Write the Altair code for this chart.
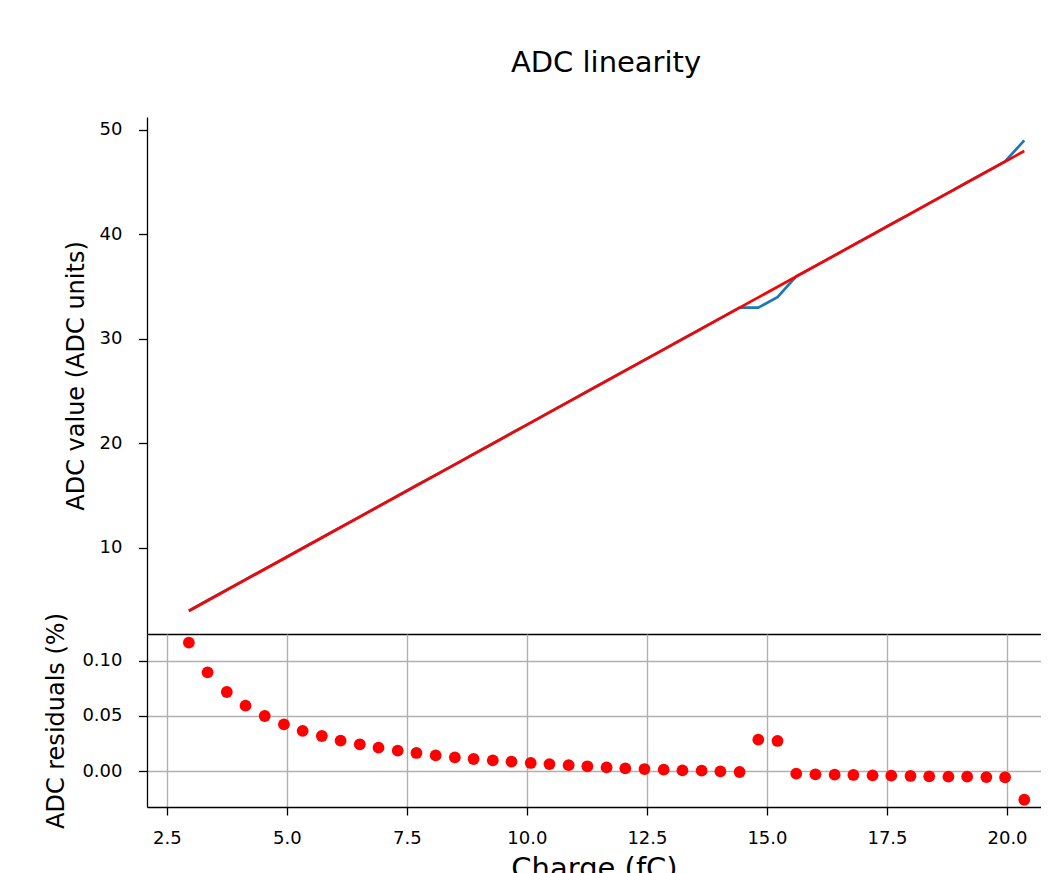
import altair as alt
import pandas as pd

# Charge values (fC)
charge = [2.96, 3.35, 3.75, 4.14, 4.54, 4.94, 5.33, 5.73, 6.12, 6.52,
          6.91, 7.31, 7.70, 8.10, 8.50, 8.89, 9.29, 9.68, 10.08, 10.47,
          10.87, 11.26, 11.66, 12.05, 12.45, 12.85, 13.24, 13.64, 14.03, 14.43,
          14.82, 15.22, 15.61, 16.01, 16.41, 16.80, 17.20, 17.59, 17.99, 18.38,
          18.78, 19.17, 19.57, 19.96, 20.36]

# Measured ADC values
adc = [4, 5, 6, 7, 8, 9, 10, 11, 12, 13,
       14, 15, 16, 17, 18, 19, 20, 21, 22, 23,
       24, 25, 26, 27, 28, 29, 30, 31, 32, 33,
       33, 34, 36, 37, 38, 39, 40, 41, 42, 43,
       44, 45, 46, 47, 49]

# Linear fit endpoints
fit_charge = [2.96, 20.36]
fit_adc = [3.97, 47.99]

# Residuals
residuals = [0.1167, 0.0897, 0.0718, 0.0594, 0.0500, 0.0424, 0.0364, 0.0318, 0.0276, 0.0243,
             0.0212, 0.0185, 0.0164, 0.0142, 0.0124, 0.0109, 0.0097, 0.0085, 0.0073, 0.0063,
             0.0053, 0.0043, 0.0033, 0.0024, 0.0018, 0.0012, 0.0006, 0.0003, -0.0003, -0.0009,
             0.0285, 0.0273, -0.0024, -0.0030, -0.0033, -0.0036, -0.0039, -0.0042, -0.0045, -0.0048,
             -0.0051, -0.0051, -0.0055, -0.0057, -0.0261]

x_ticks = [2.5, 5.0, 7.5, 10.0, 12.5, 15.0, 17.5, 20.0]
top_ticks = [10, 20, 30, 40, 50]
res_ticks = [0.0, 0.05, 0.10]

df_data = pd.DataFrame({"charge": charge, "adc": adc, "res": residuals})
df_fit = pd.DataFrame({"charge": fit_charge, "adc": fit_adc})

FONT = "DejaVu Sans"
x_scale = alt.Scale(domain=[2.088, 20.708], nice=False, zero=False)
top_scale = alt.Scale(domain=[1.77, 51.24], nice=False, zero=False)
res_scale = alt.Scale(domain=[-0.0327, 0.1245], nice=False, zero=False)

top_y_axis = alt.Axis(values=top_ticks, title="ADC value (ADC units)", grid=False,
                      labelPadding=16.5, titlePadding=11, tickSize=8.5)
top_x_axis = alt.Axis(labels=False, ticks=False, domain=True, grid=False, title=None)

blue = alt.Chart(df_data).mark_line(color="#1f77b4", strokeWidth=2.7).encode(
    x=alt.X("charge:Q", scale=x_scale, axis=top_x_axis),
    y=alt.Y("adc:Q", scale=top_scale, axis=top_y_axis),
)
red = alt.Chart(df_fit).mark_line(color="#ff0000", strokeWidth=2.7).encode(
    x=alt.X("charge:Q", scale=x_scale, axis=top_x_axis),
    y=alt.Y("adc:Q", scale=top_scale, axis=top_y_axis),
)
top = alt.layer(blue, red).properties(
    width=894, height=517, view=alt.ViewBackground(stroke=None)
)

bottom = alt.Chart(df_data).mark_circle(color="#ff0000", size=139, opacity=1).encode(
    x=alt.X("charge:Q", scale=x_scale,
            axis=alt.Axis(values=x_ticks, format=".1f", title="Charge (fC)", grid=True,
                          titleFontSize=29, labelPadding=14.5, titlePadding=6.5, tickSize=8,
                          labelOverlap=False, labelFlush=False)),
    y=alt.Y("res:Q", scale=res_scale,
            axis=alt.Axis(values=res_ticks, format=".2f", title="ADC residuals (%)", grid=True,
                          labelPadding=16.5, titlePadding=13, tickSize=8.5)),
).properties(
    width=894, height=173, view=alt.ViewBackground(stroke=None)
)

chart = alt.vconcat(top, bottom, spacing=0, bounds="flush").properties(
    title=alt.TitleParams("ADC linearity", fontSize=29, font=FONT, fontWeight="normal",
                          offset=39, anchor="middle", frame="group", dx=12, color="black"),
    padding={"left": 36, "top": 41, "right": 0, "bottom": 5},
).configure_axis(
    labelFont=FONT, titleFont=FONT, labelFontSize=18, titleFontSize=24,
    titleFontWeight="normal", labelColor="black", titleColor="black",
    domainColor="black", tickColor="black", domainWidth=1.3, tickWidth=1.3,
    gridColor="#b0b0b0", gridWidth=1.4,
)

chart.save("out.html", embed_options={"renderer": "svg", "actions": False})
